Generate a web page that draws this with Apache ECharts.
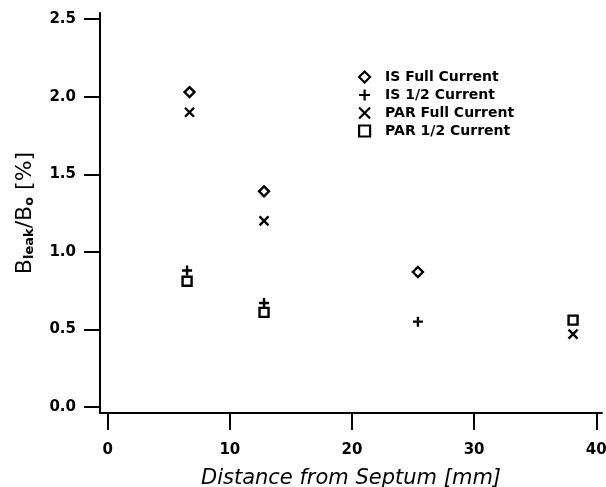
<!DOCTYPE html>
<html>
<head>
<meta charset="utf-8">
<script src="https://cdn.jsdelivr.net/npm/echarts@6/dist/echarts.min.js"></script>
<style>
html,body{margin:0;padding:0;background:#fff;}
#c{width:606px;height:487px;}
</style>
</head>
<body>
<div id="c"></div>
<script>
// ---- data ----
const seriesNames = ['IS Full Current', 'IS 1/2 Current', 'PAR Full Current', 'PAR 1/2 Current'];
const isFull   = [[6.7, 2.03], [12.8, 1.39], [25.4, 0.87]];
const isHalf   = [[6.5, 0.88], [12.8, 0.67], [25.4, 0.55]];
const parFull  = [[6.7, 1.90], [12.8, 1.20], [38.1, 0.47]];
const parHalf  = [[6.5, 0.81], [12.8, 0.61], [38.1, 0.56]];
const xTicks = [0, 10, 20, 30, 40];
const yTicks = [0, 0.5, 1.0, 1.5, 2.0, 2.5];

const PLUS = 'path://M0,5L10,5M5,0L5,10';
const CROSS = 'path://M0,0L10,10M10,0L0,10';

const chart = echarts.init(document.getElementById('c'), null, {renderer: 'canvas'});

const tickFont = {fontFamily: 'DejaVu Sans', fontWeight: 'bold', fontSize: 15, color: '#000'};

function mk(name, data, symbol, size) {
  return {
    name: name,
    type: 'scatter',
    data: data,
    symbol: symbol,
    symbolSize: size,
    itemStyle: {color: 'rgba(0,0,0,0)', borderColor: '#000', borderWidth: 2.4, opacity: 1},
    emphasis: {disabled: true}
  };
}

chart.setOption({
  animation: false,
  backgroundColor: '#fff',
  grid: {left: 100, right: 4, top: 13, bottom: 74, containLabel: false, outerBoundsMode: 'none'},
  legend: {
    orient: 'vertical',
    left: 353,
    top: 65,
    itemWidth: 11,
    itemHeight: 11,
    itemGap: 4,
    selectedMode: false,
    itemStyle: {borderWidth: 2.2, borderColor: '#000', opacity: 1},
    textStyle: {fontFamily: 'DejaVu Sans', fontWeight: 'bold', fontSize: 14, color: '#000', padding: [0, 0, 0, 10]},
    data: seriesNames
  },
  xAxis: {
    type: 'value',
    min: -0.63,
    max: 40.47,
    name: 'Distance from Septum [mm]',
    nameLocation: 'middle',
    nameGap: 55,
    nameTextStyle: {fontFamily: 'DejaVu Sans', fontStyle: 'italic', fontSize: 21, color: '#000'},
    axisLine: {show: true, onZero: false, lineStyle: {color: '#000', width: 2}},
    axisTick: {show: true, inside: false, length: 17, customValues: xTicks, lineStyle: {color: '#000', width: 2}},
    axisLabel: Object.assign({margin: 30, customValues: xTicks, formatter: v => String(Math.round(v))}, tickFont),
    splitLine: {show: false}
  },
  yAxis: {
    type: 'value',
    min: -0.039,
    max: 2.54,
    name: '{b|B}{s|leak}{b|/B}{s|o}{b| [%]}',
    nameLocation: 'middle',
    nameRotate: 90,
    nameGap: 64,
    nameTextStyle: {
      color: '#000',
      rich: {
        b: {fontFamily: 'DejaVu Sans', fontSize: 22, color: '#000', verticalAlign: 'bottom', lineHeight: 26},
        s: {fontFamily: 'DejaVu Sans', fontSize: 13, fontWeight: 'bold', color: '#000', verticalAlign: 'bottom', lineHeight: 18}
      }
    },
    axisLine: {show: true, onZero: false, lineStyle: {color: '#000', width: 2}},
    axisTick: {show: true, inside: false, length: 16, customValues: yTicks, lineStyle: {color: '#000', width: 2}},
    axisLabel: Object.assign({margin: 24, customValues: yTicks, formatter: v => v.toFixed(1)}, tickFont),
    splitLine: {show: false}
  },
  series: [
    mk(seriesNames[0], isFull, 'diamond', 10),
    mk(seriesNames[1], isHalf, PLUS, 10),
    mk(seriesNames[2], parFull, CROSS, 9),
    mk(seriesNames[3], parHalf, 'rect', 9)
  ]
});
</script>
</body>
</html>
